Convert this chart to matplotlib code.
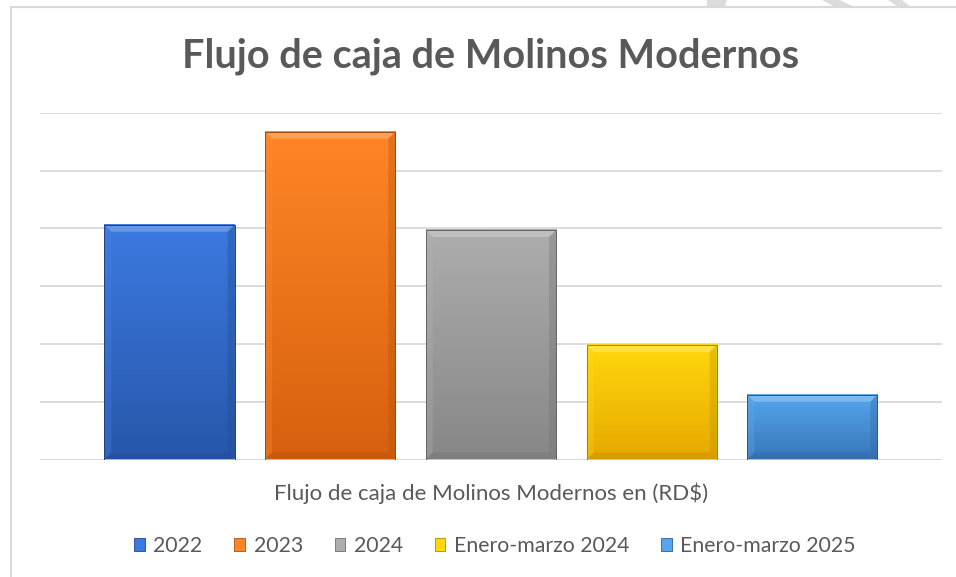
import numpy as np
import matplotlib
matplotlib.use('Agg')
import matplotlib.pyplot as plt
from matplotlib.patches import Polygon, Patch
from matplotlib.colors import to_rgb

plt.rcParams['font.family'] = ['Lato', 'DejaVu Sans']

# data
series = ['2022', '2023', '2024', 'Enero-marzo 2024', 'Enero-marzo 2025']
values = [4.06, 5.67, 3.97, 1.98, 1.12]
top_colors = ['#3B7AE0', '#FF8526', '#ADADAD', '#FFD80C', '#55A6EC']
bottom_colors = ['#2857AB', '#D6600E', '#878787', '#E6A800', '#3877BC']
title = 'Flujo de caja de Molinos Modernos'
xlabel = 'Flujo de caja de Molinos Modernos en (RD$)'

W, H = 956, 577
fig = plt.figure(figsize=(W / 100, H / 100), dpi=100)
fig.patch.set_facecolor('white')

# chart border (left and top only visible) and faint page marks
fig.add_artist(plt.Line2D([11 / W, 11 / W], [0, 1 - 7 / H], color='#D9D9D9', lw=1.5))
fig.add_artist(plt.Line2D([11 / W, 1], [1 - 7 / H, 1 - 7 / H], color='#D9D9D9', lw=1.5))
for xt0, xt1, xb0, xb1 in [(707, 727, 707, 725), (822, 840, 833, 852), (888, 902, 897, 910)]:
    fig.add_artist(Polygon([(xt0 / W, 1), (xt1 / W, 1), (xb1 / W, 1 - 6 / H), (xb0 / W, 1 - 6 / H)],
                           closed=True, transform=fig.transFigure, color='#DCDCDC', lw=0))

ax = fig.add_axes([40 / W, (H - 459.5) / H, 902 / W, 346.8 / H])
x = np.arange(len(series))
bars = ax.bar(x, values, width=0.81, color=top_colors, zorder=2)
ax.set_xlim(-0.806, 4.807)
ax.set_ylim(0, 6)
ax.set_yticks(np.arange(0, 7, 1))
ax.yaxis.grid(True, color='#D9D9D9', lw=1.3, zorder=0)
ax.set_axisbelow(True)
ax.tick_params(left=False, bottom=False, labelleft=False, labelbottom=False)
for s in ax.spines.values():
    s.set_visible(False)
ax.axhline(0, color='#D9D9D9', lw=1.3, zorder=1)

# bevel size in data units (about 7 px)
px_x = 902 / (4.807 + 0.806)
px_y = 346.8 / 6
dx, dy = 7 / px_x, 7 / px_y


def mix(c, other, t):
    c, o = np.array(to_rgb(c)), np.array(to_rgb(other))
    return tuple(c * (1 - t) + o * t)


for b, ct, cb in zip(bars, top_colors, bottom_colors):
    x0, w, h = b.get_x(), b.get_width(), b.get_height()
    x1 = x0 + w
    b.set_visible(False)
    grad = np.linspace(0, 1, 200)[:, None, None]
    img = np.array(to_rgb(ct))[None, None, :] * (1 - grad) + np.array(to_rgb(cb))[None, None, :] * grad
    ax.imshow(img, extent=(x0, x1, 0, h), aspect='auto', origin='upper', zorder=3, interpolation='bilinear')
    # bevel faces
    ax.add_patch(Polygon([(x0, h), (x1, h), (x1 - dx, h - dy), (x0 + dx, h - dy)],
                         color=mix(ct, 'white', 0.22), lw=0, zorder=4))
    ax.add_patch(Polygon([(x0, 0), (x0, h), (x0 + dx, h - dy), (x0 + dx, dy)],
                         color=mix(ct, 'white', 0.08), alpha=0.3, lw=0, zorder=4))
    ax.add_patch(Polygon([(x1, 0), (x1, h), (x1 - dx, h - dy), (x1 - dx, dy)],
                         color=mix(cb, 'black', 0.15), alpha=0.35, lw=0, zorder=4))
    ax.add_patch(Polygon([(x0, 0), (x1, 0), (x1 - dx, dy), (x0 + dx, dy)],
                         color=mix(cb, 'black', 0.12), alpha=0.5, lw=0, zorder=4))
    ax.add_patch(Polygon([(x0, 0), (x0, h), (x1, h), (x1, 0)], fill=False,
                         edgecolor=mix(cb, 'black', 0.25), lw=0.7, zorder=5))

fig.text(491 / W, 1 - 56 / H, title, ha='center', va='center', fontsize=28.5,
         fontweight='bold', color='#595959')
fig.text(491 / W, 1 - 493 / H, xlabel, ha='center', va='center', fontsize=16, color='#595959')

handles = [Patch(facecolor=ct, edgecolor=mix(cb, 'black', 0.2), lw=0.6) for ct, cb in zip(top_colors, bottom_colors)]
leg = fig.legend(handles, series, loc='center', bbox_to_anchor=(495 / W, 1 - 546 / H), ncol=5,
                 frameon=False, fontsize=15.3, handlelength=0.5, handleheight=0.5,
                 handletextpad=0.4, columnspacing=1.5, labelcolor='#595959')

fig.savefig('out.png', dpi=100)
